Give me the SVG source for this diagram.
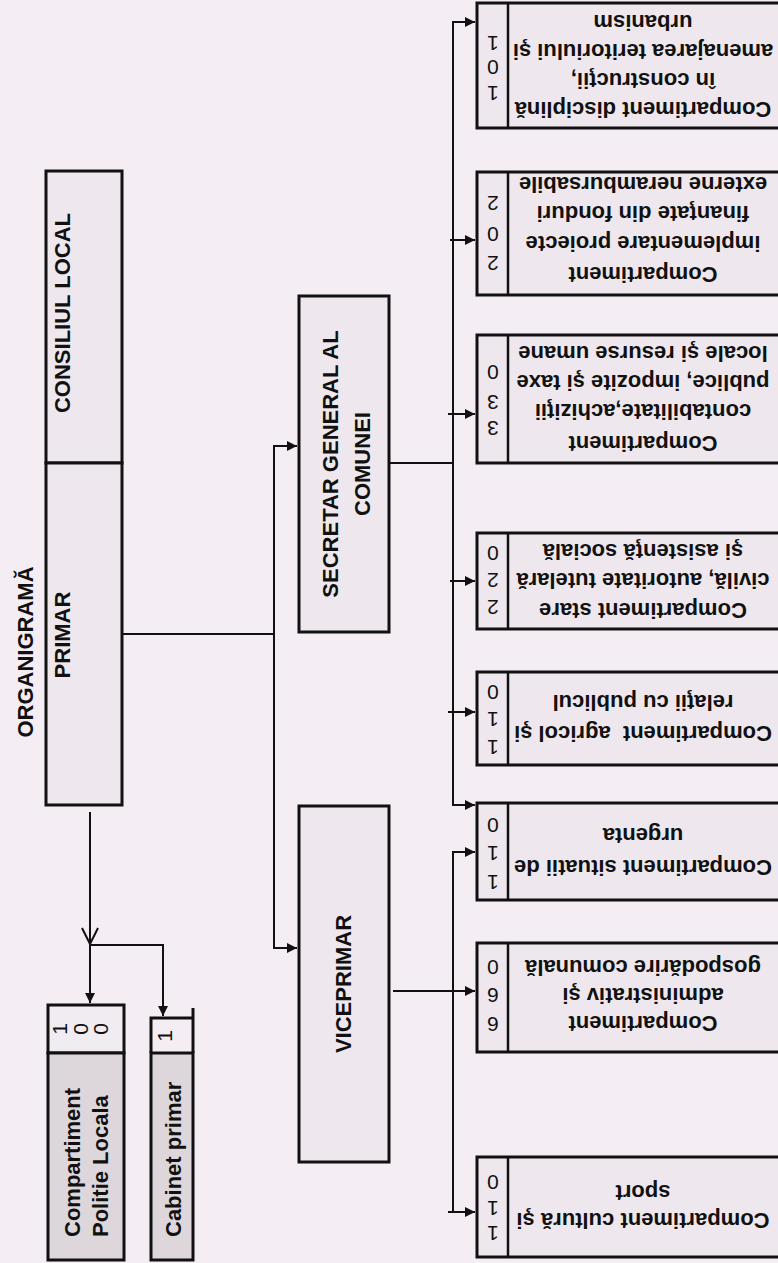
<svg xmlns="http://www.w3.org/2000/svg" width="778" height="1263" viewBox="0 0 778 1263">
<defs>
<style>
.bg{fill:#f4eef4}
.box{fill:#eee8ee;stroke:#111;stroke-width:3}
.dark{fill:#ddd7dc;stroke:#111;stroke-width:3}
.cell{fill:#f1ecf1;stroke:#111;stroke-width:3}
.div{stroke:#111;stroke-width:2.5;fill:none}
.conn{stroke:#111;stroke-width:2;fill:none}
.t{font-family:"Liberation Sans",Arial,sans-serif;font-weight:bold;font-size:22px;fill:#111;text-anchor:middle;dominant-baseline:central}
.ts{font-family:"Liberation Sans",Arial,sans-serif;font-weight:bold;font-size:22px;fill:#111;text-anchor:start;dominant-baseline:central}
.d{font-family:"Liberation Sans",Arial,sans-serif;font-size:21px;fill:#111;text-anchor:middle;dominant-baseline:central}
</style>
<marker id="ah" viewBox="0 0 10 10" refX="10" refY="5" markerWidth="11" markerHeight="10" orient="auto" markerUnits="userSpaceOnUse">
<path d="M0,0 L10,5 L0,10 z" fill="#111"/>
</marker>
</defs>
<rect class="bg" x="0" y="0" width="778" height="1263"/>

<text class="t" x="25" y="652" transform="rotate(-90 25 652)">ORGANIGRAMĂ</text>

<g id="consiliul-local">
<rect class="box" x="46" y="171" width="76" height="292"/>
<text class="t" x="62" y="313" transform="rotate(-90 62 313)">CONSILIUL LOCAL</text>
</g>
<g id="primar">
<rect class="box" x="46" y="463" width="76" height="342"/>
<text class="t" x="62" y="635" transform="rotate(-90 62 635)">PRIMAR</text>
</g>
<g id="secretar">
<rect class="box" x="299" y="296" width="90" height="336"/>
<text class="t" x="330" y="464" transform="rotate(-90 330 464)">SECRETAR GENERAL AL</text>
<text class="t" x="362" y="464" transform="rotate(-90 362 464)">COMUNEI</text>
</g>
<g id="viceprimar">
<rect class="box" x="299" y="806" width="90" height="356"/>
<text class="t" x="343" y="984" transform="rotate(-90 343 984)">VICEPRIMAR</text>
</g>
<g id="politie-locala">
<rect class="cell" x="48" y="1005" width="76" height="48"/>
<text class="d" x="59" y="1029" transform="rotate(-90 59 1029)">1</text>
<text class="d" x="80" y="1029" transform="rotate(-90 80 1029)">0</text>
<text class="d" x="100" y="1029" transform="rotate(-90 100 1029)">0</text>
<rect class="dark" x="48" y="1053" width="76" height="207"/>
<text class="ts" x="72" y="1237" transform="rotate(-90 72 1237)">Compartiment</text>
<text class="ts" x="100" y="1237" transform="rotate(-90 100 1237)">Politie Locala</text>
</g>
<g id="cabinet-primar">
<path d="M151,1053 V1018 H193" class="div" style="stroke-width:3"/>
<path d="M193,1008 V1053" class="div" style="stroke-width:3"/>
<text class="d" x="164" y="1036" transform="rotate(-90 164 1036)">1</text>
<rect class="dark" x="151" y="1053" width="42" height="207"/>
<text class="ts" x="173" y="1237" transform="rotate(-90 173 1237)">Cabinet primar</text>
</g>

<g id="c1">
<rect class="box" x="477" y="3" width="320" height="125"/>
<line x1="508" y1="3" x2="508" y2="128" class="div"/>
<text class="d" x="493" y="43" transform="rotate(180 493 43)">1</text>
<text class="d" x="493" y="67" transform="rotate(180 493 67)">0</text>
<text class="d" x="493" y="93" transform="rotate(180 493 93)">1</text>
<text class="t" x="643" y="22" transform="rotate(180 643 22)">urbanism</text>
<text class="t" x="643" y="51" transform="rotate(180 643 51)">amenajarea teritoriului şi</text>
<text class="t" x="643" y="80" transform="rotate(180 643 80)">în construcţii,</text>
<text class="t" x="643" y="109" transform="rotate(180 643 109)">Compartiment disciplină</text>
</g>
<g id="c2">
<rect class="box" x="477" y="172" width="320" height="123"/>
<line x1="508" y1="172" x2="508" y2="295" class="div"/>
<text class="d" x="493" y="203" transform="rotate(180 493 203)">2</text>
<text class="d" x="493" y="234" transform="rotate(180 493 234)">0</text>
<text class="d" x="493" y="263" transform="rotate(180 493 263)">2</text>
<text class="t" x="643" y="184" transform="rotate(180 643 184)">externe nerambursabile</text>
<text class="t" x="643" y="213" transform="rotate(180 643 213)">finanţate din fonduri</text>
<text class="t" x="643" y="243" transform="rotate(180 643 243)">implementare proiecte</text>
<text class="t" x="643" y="274" transform="rotate(180 643 274)">Compartiment</text>
</g>
<g id="c3">
<rect class="box" x="477" y="335" width="320" height="128"/>
<line x1="508" y1="335" x2="508" y2="463" class="div"/>
<text class="d" x="493" y="372" transform="rotate(180 493 372)">0</text>
<text class="d" x="493" y="402" transform="rotate(180 493 402)">3</text>
<text class="d" x="493" y="428" transform="rotate(180 493 428)">3</text>
<text class="t" x="643" y="353" transform="rotate(180 643 353)">locale şi resurse umane</text>
<text class="t" x="643" y="382" transform="rotate(180 643 382)">publice, impozite şi taxe</text>
<text class="t" x="643" y="411" transform="rotate(180 643 411)">contabilitate,achiziţii</text>
<text class="t" x="643" y="443" transform="rotate(180 643 443)">Compartiment</text>
</g>
<g id="c4">
<rect class="box" x="477" y="533" width="320" height="96"/>
<line x1="508" y1="533" x2="508" y2="629" class="div"/>
<text class="d" x="493" y="553" transform="rotate(180 493 553)">0</text>
<text class="d" x="493" y="580" transform="rotate(180 493 580)">2</text>
<text class="d" x="493" y="607" transform="rotate(180 493 607)">2</text>
<text class="t" x="643" y="551" transform="rotate(180 643 551)">şi asistenţă socială</text>
<text class="t" x="643" y="580" transform="rotate(180 643 580)">civilă, autoritate tutelară</text>
<text class="t" x="643" y="610" transform="rotate(180 643 610)">Compartiment stare</text>
</g>
<g id="c5">
<rect class="box" x="477" y="672" width="320" height="93"/>
<line x1="508" y1="672" x2="508" y2="765" class="div"/>
<text class="d" x="493" y="692" transform="rotate(180 493 692)">0</text>
<text class="d" x="493" y="719" transform="rotate(180 493 719)">1</text>
<text class="d" x="493" y="747" transform="rotate(180 493 747)">1</text>
<text class="t" x="643" y="702" transform="rotate(180 643 702)">relaţii cu publicul</text>
<text class="t" x="643" y="733" transform="rotate(180 643 733)" style="white-space:pre">Compartiment  agricol şi</text>
</g>
<g id="c6">
<rect class="box" x="477" y="803" width="320" height="97"/>
<line x1="508" y1="803" x2="508" y2="900" class="div"/>
<text class="d" x="493" y="825" transform="rotate(180 493 825)">0</text>
<text class="d" x="493" y="853" transform="rotate(180 493 853)">1</text>
<text class="d" x="493" y="882" transform="rotate(180 493 882)">1</text>
<text class="t" x="643" y="835" transform="rotate(180 643 835)">urgenta</text>
<text class="t" x="643" y="867" transform="rotate(180 643 867)">Compartiment situatii de</text>
</g>
<g id="c7">
<rect class="box" x="477" y="943" width="320" height="109"/>
<line x1="508" y1="943" x2="508" y2="1052" class="div"/>
<text class="d" x="493" y="967" transform="rotate(180 493 967)">0</text>
<text class="d" x="493" y="995" transform="rotate(180 493 995)">6</text>
<text class="d" x="493" y="1024" transform="rotate(180 493 1024)">6</text>
<text class="t" x="643" y="967" transform="rotate(180 643 967)">gospodărire comunală</text>
<text class="t" x="643" y="995" transform="rotate(180 643 995)">administrativ şi</text>
<text class="t" x="643" y="1023" transform="rotate(180 643 1023)">Compartiment</text>
</g>
<g id="c8">
<rect class="box" x="477" y="1157" width="320" height="100"/>
<line x1="508" y1="1157" x2="508" y2="1257" class="div"/>
<text class="d" x="493" y="1182" transform="rotate(180 493 1182)">0</text>
<text class="d" x="493" y="1208" transform="rotate(180 493 1208)">1</text>
<text class="d" x="493" y="1233" transform="rotate(180 493 1233)">1</text>
<text class="t" x="643" y="1192" transform="rotate(180 643 1192)">sport</text>
<text class="t" x="643" y="1220" transform="rotate(180 643 1220)">Compartiment cultură şi</text>
</g>

<g id="connectors">
<line class="conn" x1="90" y1="812" x2="90" y2="1003" marker-end="url(#ah)"/>
<polyline class="conn" points="82,928 90,944 98,928"/>
<polyline class="conn" points="90,945 163,945 163,1016" marker-end="url(#ah)"/>
<line class="conn" x1="123" y1="634" x2="274" y2="634"/>
<line class="conn" x1="274" y1="446" x2="274" y2="948"/>
<line class="conn" x1="273" y1="446" x2="297" y2="446" marker-end="url(#ah)"/>
<line class="conn" x1="273" y1="948" x2="297" y2="948" marker-end="url(#ah)"/>
<line class="conn" x1="390" y1="463" x2="453" y2="463"/>
<line class="conn" x1="453" y1="22" x2="453" y2="805"/>
<line class="conn" x1="452" y1="22" x2="475" y2="22" marker-end="url(#ah)"/>
<line class="conn" x1="450" y1="240" x2="475" y2="240" marker-end="url(#ah)"/>
<line class="conn" x1="448" y1="414" x2="475" y2="414" marker-end="url(#ah)"/>
<line class="conn" x1="450" y1="581" x2="475" y2="581" marker-end="url(#ah)"/>
<line class="conn" x1="448" y1="712" x2="475" y2="712" marker-end="url(#ah)"/>
<line class="conn" x1="452" y1="805" x2="475" y2="805" marker-end="url(#ah)"/>
<line class="conn" x1="393" y1="991" x2="475" y2="991" marker-end="url(#ah)"/>
<line class="conn" x1="453" y1="852" x2="453" y2="1212"/>
<line class="conn" x1="452" y1="852" x2="475" y2="852" marker-end="url(#ah)"/>
<line class="conn" x1="448" y1="1212" x2="475" y2="1212" marker-end="url(#ah)"/>
</g>
</svg>
